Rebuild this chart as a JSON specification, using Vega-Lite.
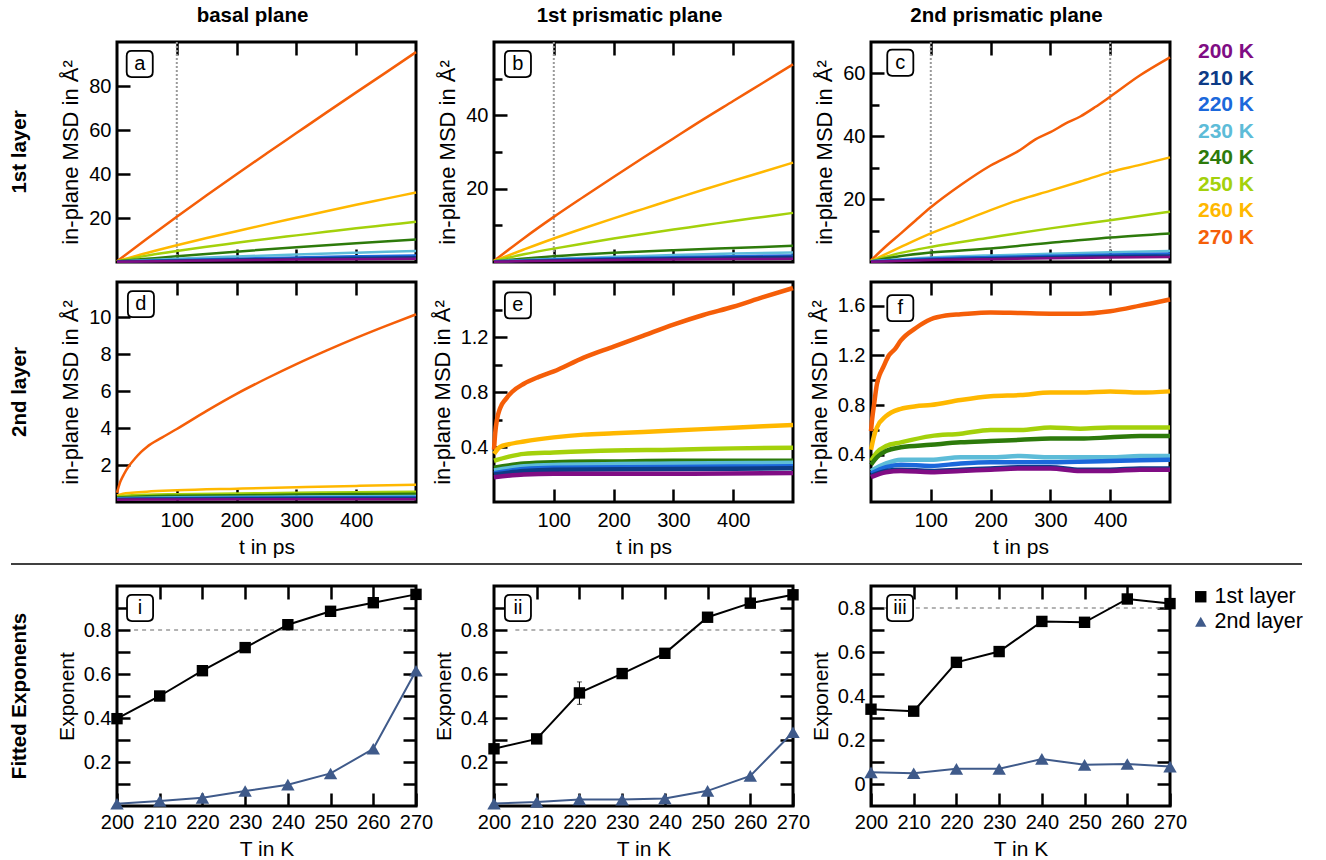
{
"$schema": "https://vega.github.io/schema/vega-lite/v6.json",
"padding": {"left": 9, "top": 4, "right": 5, "bottom": 0},
"config": {
  "font": "Liberation Sans",
  "view": {"stroke": "black", "strokeWidth": 3},
  "axis": {"domain": false, "grid": false, "tickColor": "black", "tickWidth": 2.5, "tickSize": -13, "labelFontSize": 20, "labelColor": "black", "titleFontSize": 21, "titleFontWeight": "normal", "titleColor": "black", "labelFlush": false, "labelOverlap": false},
  "axisX": {"labelPadding": 21, "titlePadding": 6},
  "axisY": {"labelPadding": 19, "titlePadding": 6}
},
"datasets": {
  "rows": [{"r": "1st layer"}, {"r": "2nd layer"}, {"r": "Fitted Exponents"}],
  "temps": [{"T": "200 K"}, {"T": "210 K"}, {"T": "220 K"}, {"T": "230 K"}, {"T": "240 K"}, {"T": "250 K"}, {"T": "260 K"}, {"T": "270 K"}],
  "sep": [{"y": 0}],
  "vref": [{"p": "a", "t": 100}, {"p": "b", "t": 100}, {"p": "c", "t": 100}, {"p": "c", "t": 400}],
  "href": [{"p": "i", "t": 204, "t2": 268, "v": 0.8}, {"p": "ii", "t": 205, "t2": 268, "v": 0.8}, {"p": "iii", "t": 203, "t2": 269, "v": 0.8}],
  "labs": [
    {"p": "a", "lab": "a", "t": 38, "v": 90}, {"p": "b", "lab": "b", "t": 40, "v": 54}, {"p": "c", "lab": "c", "t": 49, "v": 63.4},
    {"p": "d", "lab": "d", "t": 40, "v": 10.7}, {"p": "e", "lab": "e", "t": 40, "v": 1.43}, {"p": "f", "lab": "f", "t": 49, "v": 1.58},
    {"p": "i", "lab": "i", "t": 205.4, "v": 0.9}, {"p": "ii", "lab": "ii", "t": 205.6, "v": 0.9}, {"p": "iii", "lab": "iii", "t": 206.8, "v": 0.8}
  ],
  "exp": [
    {"p": "i", "s": "1st layer", "K": 200, "v": 0.397, "lo": 0.385, "hi": 0.409},
    {"p": "i", "s": "1st layer", "K": 210, "v": 0.5, "lo": 0.488, "hi": 0.512},
    {"p": "i", "s": "1st layer", "K": 220, "v": 0.615, "lo": 0.603, "hi": 0.627},
    {"p": "i", "s": "1st layer", "K": 230, "v": 0.72, "lo": 0.708, "hi": 0.732},
    {"p": "i", "s": "1st layer", "K": 240, "v": 0.824, "lo": 0.812, "hi": 0.836},
    {"p": "i", "s": "1st layer", "K": 250, "v": 0.885, "lo": 0.873, "hi": 0.897},
    {"p": "i", "s": "1st layer", "K": 260, "v": 0.924, "lo": 0.912, "hi": 0.936},
    {"p": "i", "s": "1st layer", "K": 270, "v": 0.962, "lo": 0.95, "hi": 0.974},
    {"p": "i", "s": "2nd layer", "K": 200, "v": 0.01},
    {"p": "i", "s": "2nd layer", "K": 210, "v": 0.023},
    {"p": "i", "s": "2nd layer", "K": 220, "v": 0.037},
    {"p": "i", "s": "2nd layer", "K": 230, "v": 0.068},
    {"p": "i", "s": "2nd layer", "K": 240, "v": 0.097},
    {"p": "i", "s": "2nd layer", "K": 250, "v": 0.148},
    {"p": "i", "s": "2nd layer", "K": 260, "v": 0.26},
    {"p": "i", "s": "2nd layer", "K": 270, "v": 0.615},
    {"p": "ii", "s": "1st layer", "K": 200, "v": 0.26, "lo": 0.248, "hi": 0.272},
    {"p": "ii", "s": "1st layer", "K": 210, "v": 0.305, "lo": 0.288, "hi": 0.322},
    {"p": "ii", "s": "1st layer", "K": 220, "v": 0.514, "lo": 0.462, "hi": 0.564},
    {"p": "ii", "s": "1st layer", "K": 230, "v": 0.602, "lo": 0.59, "hi": 0.614},
    {"p": "ii", "s": "1st layer", "K": 240, "v": 0.694, "lo": 0.682, "hi": 0.706},
    {"p": "ii", "s": "1st layer", "K": 250, "v": 0.858, "lo": 0.846, "hi": 0.87},
    {"p": "ii", "s": "1st layer", "K": 260, "v": 0.922, "lo": 0.91, "hi": 0.934},
    {"p": "ii", "s": "1st layer", "K": 270, "v": 0.96, "lo": 0.948, "hi": 0.972},
    {"p": "ii", "s": "2nd layer", "K": 200, "v": 0.011},
    {"p": "ii", "s": "2nd layer", "K": 210, "v": 0.018},
    {"p": "ii", "s": "2nd layer", "K": 220, "v": 0.03},
    {"p": "ii", "s": "2nd layer", "K": 230, "v": 0.029},
    {"p": "ii", "s": "2nd layer", "K": 240, "v": 0.034},
    {"p": "ii", "s": "2nd layer", "K": 250, "v": 0.069},
    {"p": "ii", "s": "2nd layer", "K": 260, "v": 0.137},
    {"p": "ii", "s": "2nd layer", "K": 270, "v": 0.335},
    {"p": "iii", "s": "1st layer", "K": 200, "v": 0.34, "lo": 0.328, "hi": 0.352},
    {"p": "iii", "s": "1st layer", "K": 210, "v": 0.331, "lo": 0.319, "hi": 0.343},
    {"p": "iii", "s": "1st layer", "K": 220, "v": 0.553, "lo": 0.541, "hi": 0.565},
    {"p": "iii", "s": "1st layer", "K": 230, "v": 0.602, "lo": 0.59, "hi": 0.614},
    {"p": "iii", "s": "1st layer", "K": 240, "v": 0.739, "lo": 0.727, "hi": 0.751},
    {"p": "iii", "s": "1st layer", "K": 250, "v": 0.735, "lo": 0.723, "hi": 0.747},
    {"p": "iii", "s": "1st layer", "K": 260, "v": 0.841, "lo": 0.829, "hi": 0.853},
    {"p": "iii", "s": "1st layer", "K": 270, "v": 0.82, "lo": 0.808, "hi": 0.832},
    {"p": "iii", "s": "2nd layer", "K": 200, "v": 0.053},
    {"p": "iii", "s": "2nd layer", "K": 210, "v": 0.049},
    {"p": "iii", "s": "2nd layer", "K": 220, "v": 0.069},
    {"p": "iii", "s": "2nd layer", "K": 230, "v": 0.069},
    {"p": "iii", "s": "2nd layer", "K": 240, "v": 0.114},
    {"p": "iii", "s": "2nd layer", "K": 250, "v": 0.087},
    {"p": "iii", "s": "2nd layer", "K": 260, "v": 0.091},
    {"p": "iii", "s": "2nd layer", "K": 270, "v": 0.079}
  ],
  "msd": [
    {"p":"a","T":"270 K","t":0,"v":0.3},{"p":"a","T":"270 K","t":50,"v":10.6},{"p":"a","T":"270 K","t":100,"v":20.6},{"p":"a","T":"270 K","t":150,"v":30.3},{"p":"a","T":"270 K","t":200,"v":39.9},{"p":"a","T":"270 K","t":250,"v":49.3},{"p":"a","T":"270 K","t":300,"v":58.6},{"p":"a","T":"270 K","t":350,"v":67.9},{"p":"a","T":"270 K","t":400,"v":77.1},{"p":"a","T":"270 K","t":450,"v":86.2},{"p":"a","T":"270 K","t":500,"v":95.4},
    {"p":"a","T":"260 K","t":0,"v":0.3},{"p":"a","T":"260 K","t":50,"v":4.1},{"p":"a","T":"260 K","t":100,"v":7.6},{"p":"a","T":"260 K","t":150,"v":10.9},{"p":"a","T":"260 K","t":200,"v":14.0},{"p":"a","T":"260 K","t":250,"v":17.1},{"p":"a","T":"260 K","t":300,"v":20.1},{"p":"a","T":"260 K","t":350,"v":23.1},{"p":"a","T":"260 K","t":400,"v":26.0},{"p":"a","T":"260 K","t":450,"v":28.8},{"p":"a","T":"260 K","t":500,"v":31.6},
    {"p":"a","T":"250 K","t":0,"v":0.3},{"p":"a","T":"250 K","t":50,"v":2.9},{"p":"a","T":"250 K","t":100,"v":5.0},{"p":"a","T":"250 K","t":150,"v":6.9},{"p":"a","T":"250 K","t":200,"v":8.7},{"p":"a","T":"250 K","t":250,"v":10.5},{"p":"a","T":"250 K","t":300,"v":12.1},{"p":"a","T":"250 K","t":350,"v":13.7},{"p":"a","T":"250 K","t":400,"v":15.3},{"p":"a","T":"250 K","t":450,"v":16.8},{"p":"a","T":"250 K","t":500,"v":18.3},
    {"p":"a","T":"240 K","t":0,"v":0.3},{"p":"a","T":"240 K","t":50,"v":1.45},{"p":"a","T":"240 K","t":100,"v":2.6},{"p":"a","T":"240 K","t":200,"v":4.7},{"p":"a","T":"240 K","t":300,"v":6.7},{"p":"a","T":"240 K","t":400,"v":8.5},{"p":"a","T":"240 K","t":500,"v":10.2},
    {"p":"a","T":"230 K","t":0,"v":0.2},{"p":"a","T":"230 K","t":100,"v":1.5},{"p":"a","T":"230 K","t":200,"v":2.5},{"p":"a","T":"230 K","t":300,"v":3.4},{"p":"a","T":"230 K","t":400,"v":4.2},{"p":"a","T":"230 K","t":500,"v":5.0},
    {"p":"a","T":"220 K","t":0,"v":0.2},{"p":"a","T":"220 K","t":100,"v":0.9},{"p":"a","T":"220 K","t":200,"v":1.5},{"p":"a","T":"220 K","t":300,"v":2.1},{"p":"a","T":"220 K","t":400,"v":2.6},{"p":"a","T":"220 K","t":500,"v":3.0},
    {"p":"a","T":"210 K","t":0,"v":0.2},{"p":"a","T":"210 K","t":100,"v":0.7},{"p":"a","T":"210 K","t":200,"v":1.1},{"p":"a","T":"210 K","t":300,"v":1.5},{"p":"a","T":"210 K","t":400,"v":1.9},{"p":"a","T":"210 K","t":500,"v":2.2},
    {"p":"a","T":"200 K","t":0,"v":0.1},{"p":"a","T":"200 K","t":100,"v":0.5},{"p":"a","T":"200 K","t":200,"v":0.8},{"p":"a","T":"200 K","t":300,"v":1.1},{"p":"a","T":"200 K","t":400,"v":1.3},{"p":"a","T":"200 K","t":500,"v":1.5},

    {"p":"b","T":"270 K","t":0,"v":0.3},{"p":"b","T":"270 K","t":50,"v":6.5},{"p":"b","T":"270 K","t":100,"v":12.3},{"p":"b","T":"270 K","t":150,"v":17.8},{"p":"b","T":"270 K","t":200,"v":23.2},{"p":"b","T":"270 K","t":250,"v":28.5},{"p":"b","T":"270 K","t":300,"v":33.7},{"p":"b","T":"270 K","t":350,"v":38.9},{"p":"b","T":"270 K","t":400,"v":43.9},{"p":"b","T":"270 K","t":450,"v":48.9},{"p":"b","T":"270 K","t":500,"v":53.9},
    {"p":"b","T":"260 K","t":0,"v":0.3},{"p":"b","T":"260 K","t":50,"v":3.4},{"p":"b","T":"260 K","t":100,"v":6.4},{"p":"b","T":"260 K","t":150,"v":9.2},{"p":"b","T":"260 K","t":200,"v":11.9},{"p":"b","T":"260 K","t":250,"v":14.5},{"p":"b","T":"260 K","t":300,"v":17.1},{"p":"b","T":"260 K","t":350,"v":19.7},{"p":"b","T":"260 K","t":400,"v":22.2},{"p":"b","T":"260 K","t":450,"v":24.6},{"p":"b","T":"260 K","t":500,"v":27.1},
    {"p":"b","T":"250 K","t":0,"v":0.3},{"p":"b","T":"250 K","t":50,"v":2.1},{"p":"b","T":"250 K","t":100,"v":3.65},{"p":"b","T":"250 K","t":150,"v":5.05},{"p":"b","T":"250 K","t":200,"v":6.4},{"p":"b","T":"250 K","t":250,"v":7.65},{"p":"b","T":"250 K","t":300,"v":8.85},{"p":"b","T":"250 K","t":350,"v":10.0},{"p":"b","T":"250 K","t":400,"v":11.2},{"p":"b","T":"250 K","t":450,"v":12.3},{"p":"b","T":"250 K","t":500,"v":13.4},
    {"p":"b","T":"240 K","t":0,"v":0.2},{"p":"b","T":"240 K","t":100,"v":1.55},{"p":"b","T":"240 K","t":200,"v":2.5},{"p":"b","T":"240 K","t":300,"v":3.2},{"p":"b","T":"240 K","t":400,"v":3.8},{"p":"b","T":"240 K","t":500,"v":4.4},
    {"p":"b","T":"230 K","t":0,"v":0.2},{"p":"b","T":"230 K","t":100,"v":0.9},{"p":"b","T":"230 K","t":200,"v":1.4},{"p":"b","T":"230 K","t":300,"v":1.9},{"p":"b","T":"230 K","t":400,"v":2.3},{"p":"b","T":"230 K","t":500,"v":2.6},
    {"p":"b","T":"220 K","t":0,"v":0.15},{"p":"b","T":"220 K","t":100,"v":0.7},{"p":"b","T":"220 K","t":200,"v":1.0},{"p":"b","T":"220 K","t":300,"v":1.3},{"p":"b","T":"220 K","t":400,"v":1.6},{"p":"b","T":"220 K","t":500,"v":1.8},
    {"p":"b","T":"210 K","t":0,"v":0.1},{"p":"b","T":"210 K","t":100,"v":0.5},{"p":"b","T":"210 K","t":200,"v":0.8},{"p":"b","T":"210 K","t":300,"v":1.05},{"p":"b","T":"210 K","t":400,"v":1.25},{"p":"b","T":"210 K","t":500,"v":1.4},
    {"p":"b","T":"200 K","t":0,"v":0.1},{"p":"b","T":"200 K","t":100,"v":0.35},{"p":"b","T":"200 K","t":200,"v":0.55},{"p":"b","T":"200 K","t":300,"v":0.7},{"p":"b","T":"200 K","t":400,"v":0.8},{"p":"b","T":"200 K","t":500,"v":0.9},

    {"p":"c","T":"270 K","t":0,"v":0.5},{"p":"c","T":"270 K","t":25,"v":5.0},{"p":"c","T":"270 K","t":50,"v":9.1},{"p":"c","T":"270 K","t":75,"v":13.3},{"p":"c","T":"270 K","t":100,"v":17.4},{"p":"c","T":"270 K","t":150,"v":24.5},{"p":"c","T":"270 K","t":200,"v":30.7},{"p":"c","T":"270 K","t":250,"v":35.7},{"p":"c","T":"270 K","t":275,"v":39.0},{"p":"c","T":"270 K","t":300,"v":41.3},{"p":"c","T":"270 K","t":325,"v":44.0},{"p":"c","T":"270 K","t":350,"v":46.3},{"p":"c","T":"270 K","t":375,"v":49.3},{"p":"c","T":"270 K","t":400,"v":52.6},{"p":"c","T":"270 K","t":450,"v":59.4},{"p":"c","T":"270 K","t":500,"v":65.1},
    {"p":"c","T":"260 K","t":0,"v":0.3},{"p":"c","T":"260 K","t":50,"v":4.8},{"p":"c","T":"260 K","t":100,"v":9.1},{"p":"c","T":"260 K","t":150,"v":12.8},{"p":"c","T":"260 K","t":200,"v":16.5},{"p":"c","T":"260 K","t":250,"v":19.9},{"p":"c","T":"260 K","t":300,"v":22.7},{"p":"c","T":"260 K","t":350,"v":25.6},{"p":"c","T":"260 K","t":400,"v":28.6},{"p":"c","T":"260 K","t":450,"v":30.9},{"p":"c","T":"260 K","t":500,"v":33.3},
    {"p":"c","T":"250 K","t":0,"v":0.3},{"p":"c","T":"250 K","t":50,"v":2.9},{"p":"c","T":"250 K","t":100,"v":4.8},{"p":"c","T":"250 K","t":200,"v":7.8},{"p":"c","T":"250 K","t":300,"v":10.7},{"p":"c","T":"250 K","t":400,"v":13.3},{"p":"c","T":"250 K","t":500,"v":16.0},
    {"p":"c","T":"240 K","t":0,"v":0.2},{"p":"c","T":"240 K","t":50,"v":1.9},{"p":"c","T":"240 K","t":100,"v":3.0},{"p":"c","T":"240 K","t":200,"v":4.3},{"p":"c","T":"240 K","t":300,"v":6.1},{"p":"c","T":"240 K","t":400,"v":7.8},{"p":"c","T":"240 K","t":500,"v":9.1},
    {"p":"c","T":"230 K","t":0,"v":0.2},{"p":"c","T":"230 K","t":100,"v":1.4},{"p":"c","T":"230 K","t":200,"v":2.1},{"p":"c","T":"230 K","t":300,"v":2.6},{"p":"c","T":"230 K","t":400,"v":3.1},{"p":"c","T":"230 K","t":500,"v":3.5},
    {"p":"c","T":"220 K","t":0,"v":0.2},{"p":"c","T":"220 K","t":100,"v":1.1},{"p":"c","T":"220 K","t":200,"v":1.6},{"p":"c","T":"220 K","t":300,"v":2.0},{"p":"c","T":"220 K","t":400,"v":2.4},{"p":"c","T":"220 K","t":500,"v":2.7},
    {"p":"c","T":"210 K","t":0,"v":0.1},{"p":"c","T":"210 K","t":100,"v":0.8},{"p":"c","T":"210 K","t":200,"v":1.2},{"p":"c","T":"210 K","t":300,"v":1.6},{"p":"c","T":"210 K","t":400,"v":1.9},{"p":"c","T":"210 K","t":500,"v":2.1},
    {"p":"c","T":"200 K","t":0,"v":0.1},{"p":"c","T":"200 K","t":100,"v":0.6},{"p":"c","T":"200 K","t":200,"v":0.9},{"p":"c","T":"200 K","t":300,"v":1.2},{"p":"c","T":"200 K","t":400,"v":1.4},{"p":"c","T":"200 K","t":500,"v":1.6},

    {"p":"d","T":"270 K","t":0,"v":0.5},{"p":"d","T":"270 K","t":5,"v":1.05},{"p":"d","T":"270 K","t":10,"v":1.4},{"p":"d","T":"270 K","t":15,"v":1.7},{"p":"d","T":"270 K","t":20,"v":1.95},{"p":"d","T":"270 K","t":30,"v":2.35},{"p":"d","T":"270 K","t":40,"v":2.7},{"p":"d","T":"270 K","t":50,"v":2.98},{"p":"d","T":"270 K","t":75,"v":3.48},{"p":"d","T":"270 K","t":100,"v":3.95},{"p":"d","T":"270 K","t":150,"v":4.93},{"p":"d","T":"270 K","t":200,"v":5.85},{"p":"d","T":"270 K","t":250,"v":6.68},{"p":"d","T":"270 K","t":300,"v":7.46},{"p":"d","T":"270 K","t":350,"v":8.19},{"p":"d","T":"270 K","t":400,"v":8.88},{"p":"d","T":"270 K","t":450,"v":9.53},{"p":"d","T":"270 K","t":500,"v":10.15},
    {"p":"d","T":"260 K","t":0,"v":0.35},{"p":"d","T":"260 K","t":10,"v":0.45},{"p":"d","T":"260 K","t":25,"v":0.5},{"p":"d","T":"260 K","t":50,"v":0.56},{"p":"d","T":"260 K","t":100,"v":0.63},{"p":"d","T":"260 K","t":200,"v":0.72},{"p":"d","T":"260 K","t":300,"v":0.8},{"p":"d","T":"260 K","t":400,"v":0.87},{"p":"d","T":"260 K","t":500,"v":0.93},
    {"p":"d","T":"250 K","t":0,"v":0.3},{"p":"d","T":"250 K","t":25,"v":0.36},{"p":"d","T":"250 K","t":50,"v":0.39},{"p":"d","T":"250 K","t":100,"v":0.42},{"p":"d","T":"250 K","t":200,"v":0.46},{"p":"d","T":"250 K","t":300,"v":0.5},{"p":"d","T":"250 K","t":400,"v":0.53},{"p":"d","T":"250 K","t":500,"v":0.55},
    {"p":"d","T":"240 K","t":0,"v":0.25},{"p":"d","T":"240 K","t":50,"v":0.31},{"p":"d","T":"240 K","t":100,"v":0.34},{"p":"d","T":"240 K","t":200,"v":0.37},{"p":"d","T":"240 K","t":300,"v":0.4},{"p":"d","T":"240 K","t":400,"v":0.43},{"p":"d","T":"240 K","t":500,"v":0.45},
    {"p":"d","T":"230 K","t":0,"v":0.2},{"p":"d","T":"230 K","t":100,"v":0.26},{"p":"d","T":"230 K","t":300,"v":0.3},{"p":"d","T":"230 K","t":500,"v":0.33},
    {"p":"d","T":"220 K","t":0,"v":0.18},{"p":"d","T":"220 K","t":100,"v":0.22},{"p":"d","T":"220 K","t":300,"v":0.25},{"p":"d","T":"220 K","t":500,"v":0.27},
    {"p":"d","T":"210 K","t":0,"v":0.16},{"p":"d","T":"210 K","t":100,"v":0.19},{"p":"d","T":"210 K","t":300,"v":0.21},{"p":"d","T":"210 K","t":500,"v":0.22},
    {"p":"d","T":"200 K","t":0,"v":0.12},{"p":"d","T":"200 K","t":100,"v":0.14},{"p":"d","T":"200 K","t":300,"v":0.15},{"p":"d","T":"200 K","t":500,"v":0.15},

    {"p":"e","T":"270 K","t":0,"v":0.38},{"p":"e","T":"270 K","t":2,"v":0.5},{"p":"e","T":"270 K","t":5,"v":0.6},{"p":"e","T":"270 K","t":10,"v":0.68},{"p":"e","T":"270 K","t":20,"v":0.75},{"p":"e","T":"270 K","t":30,"v":0.8},{"p":"e","T":"270 K","t":50,"v":0.86},{"p":"e","T":"270 K","t":75,"v":0.91},{"p":"e","T":"270 K","t":100,"v":0.95},{"p":"e","T":"270 K","t":150,"v":1.05},{"p":"e","T":"270 K","t":200,"v":1.13},{"p":"e","T":"270 K","t":250,"v":1.21},{"p":"e","T":"270 K","t":300,"v":1.29},{"p":"e","T":"270 K","t":350,"v":1.36},{"p":"e","T":"270 K","t":400,"v":1.42},{"p":"e","T":"270 K","t":450,"v":1.49},{"p":"e","T":"270 K","t":500,"v":1.556},
    {"p":"e","T":"260 K","t":0,"v":0.35},{"p":"e","T":"260 K","t":10,"v":0.4},{"p":"e","T":"260 K","t":25,"v":0.42},{"p":"e","T":"260 K","t":50,"v":0.44},{"p":"e","T":"260 K","t":100,"v":0.47},{"p":"e","T":"260 K","t":150,"v":0.49},{"p":"e","T":"260 K","t":200,"v":0.5},{"p":"e","T":"260 K","t":300,"v":0.52},{"p":"e","T":"260 K","t":400,"v":0.54},{"p":"e","T":"260 K","t":500,"v":0.56},
    {"p":"e","T":"250 K","t":0,"v":0.3},{"p":"e","T":"250 K","t":25,"v":0.33},{"p":"e","T":"250 K","t":50,"v":0.35},{"p":"e","T":"250 K","t":100,"v":0.36},{"p":"e","T":"250 K","t":200,"v":0.375},{"p":"e","T":"250 K","t":300,"v":0.38},{"p":"e","T":"250 K","t":400,"v":0.39},{"p":"e","T":"250 K","t":500,"v":0.395},
    {"p":"e","T":"240 K","t":0,"v":0.25},{"p":"e","T":"240 K","t":50,"v":0.28},{"p":"e","T":"240 K","t":100,"v":0.29},{"p":"e","T":"240 K","t":200,"v":0.295},{"p":"e","T":"240 K","t":300,"v":0.3},{"p":"e","T":"240 K","t":500,"v":0.3},
    {"p":"e","T":"230 K","t":0,"v":0.23},{"p":"e","T":"230 K","t":50,"v":0.26},{"p":"e","T":"230 K","t":100,"v":0.27},{"p":"e","T":"230 K","t":300,"v":0.28},{"p":"e","T":"230 K","t":500,"v":0.285},
    {"p":"e","T":"220 K","t":0,"v":0.21},{"p":"e","T":"220 K","t":50,"v":0.24},{"p":"e","T":"220 K","t":100,"v":0.25},{"p":"e","T":"220 K","t":300,"v":0.255},{"p":"e","T":"220 K","t":500,"v":0.26},
    {"p":"e","T":"210 K","t":0,"v":0.2},{"p":"e","T":"210 K","t":50,"v":0.225},{"p":"e","T":"210 K","t":100,"v":0.235},{"p":"e","T":"210 K","t":300,"v":0.24},{"p":"e","T":"210 K","t":500,"v":0.245},
    {"p":"e","T":"200 K","t":0,"v":0.18},{"p":"e","T":"200 K","t":50,"v":0.2},{"p":"e","T":"200 K","t":100,"v":0.205},{"p":"e","T":"200 K","t":300,"v":0.205},{"p":"e","T":"200 K","t":500,"v":0.21},

    {"p":"f","T":"270 K","t":0,"v":0.59},{"p":"f","T":"270 K","t":2,"v":0.69},{"p":"f","T":"270 K","t":5,"v":0.8},{"p":"f","T":"270 K","t":10,"v":0.97},{"p":"f","T":"270 K","t":15,"v":1.05},{"p":"f","T":"270 K","t":20,"v":1.1},{"p":"f","T":"270 K","t":30,"v":1.2},{"p":"f","T":"270 K","t":40,"v":1.25},{"p":"f","T":"270 K","t":50,"v":1.32},{"p":"f","T":"270 K","t":75,"v":1.42},{"p":"f","T":"270 K","t":100,"v":1.49},{"p":"f","T":"270 K","t":125,"v":1.52},{"p":"f","T":"270 K","t":150,"v":1.53},{"p":"f","T":"270 K","t":200,"v":1.545},{"p":"f","T":"270 K","t":250,"v":1.54},{"p":"f","T":"270 K","t":300,"v":1.535},{"p":"f","T":"270 K","t":350,"v":1.535},{"p":"f","T":"270 K","t":400,"v":1.555},{"p":"f","T":"270 K","t":450,"v":1.6},{"p":"f","T":"270 K","t":500,"v":1.65},
    {"p":"f","T":"260 K","t":0,"v":0.44},{"p":"f","T":"260 K","t":5,"v":0.55},{"p":"f","T":"260 K","t":10,"v":0.62},{"p":"f","T":"260 K","t":25,"v":0.71},{"p":"f","T":"260 K","t":50,"v":0.77},{"p":"f","T":"260 K","t":75,"v":0.79},{"p":"f","T":"260 K","t":100,"v":0.8},{"p":"f","T":"260 K","t":150,"v":0.84},{"p":"f","T":"260 K","t":200,"v":0.87},{"p":"f","T":"260 K","t":250,"v":0.88},{"p":"f","T":"260 K","t":300,"v":0.9},{"p":"f","T":"260 K","t":350,"v":0.9},{"p":"f","T":"260 K","t":400,"v":0.91},{"p":"f","T":"260 K","t":450,"v":0.9},{"p":"f","T":"260 K","t":500,"v":0.91},
    {"p":"f","T":"250 K","t":0,"v":0.35},{"p":"f","T":"250 K","t":10,"v":0.42},{"p":"f","T":"250 K","t":25,"v":0.47},{"p":"f","T":"250 K","t":50,"v":0.5},{"p":"f","T":"250 K","t":100,"v":0.55},{"p":"f","T":"250 K","t":150,"v":0.57},{"p":"f","T":"250 K","t":200,"v":0.6},{"p":"f","T":"250 K","t":250,"v":0.6},{"p":"f","T":"250 K","t":300,"v":0.62},{"p":"f","T":"250 K","t":350,"v":0.61},{"p":"f","T":"250 K","t":400,"v":0.62},{"p":"f","T":"250 K","t":450,"v":0.62},{"p":"f","T":"250 K","t":500,"v":0.62},
    {"p":"f","T":"240 K","t":0,"v":0.32},{"p":"f","T":"240 K","t":10,"v":0.38},{"p":"f","T":"240 K","t":25,"v":0.43},{"p":"f","T":"240 K","t":50,"v":0.46},{"p":"f","T":"240 K","t":100,"v":0.48},{"p":"f","T":"240 K","t":150,"v":0.5},{"p":"f","T":"240 K","t":200,"v":0.51},{"p":"f","T":"240 K","t":250,"v":0.52},{"p":"f","T":"240 K","t":300,"v":0.53},{"p":"f","T":"240 K","t":350,"v":0.53},{"p":"f","T":"240 K","t":400,"v":0.54},{"p":"f","T":"240 K","t":450,"v":0.55},{"p":"f","T":"240 K","t":500,"v":0.55},
    {"p":"f","T":"230 K","t":0,"v":0.27},{"p":"f","T":"230 K","t":25,"v":0.33},{"p":"f","T":"230 K","t":50,"v":0.36},{"p":"f","T":"230 K","t":100,"v":0.36},{"p":"f","T":"230 K","t":150,"v":0.38},{"p":"f","T":"230 K","t":200,"v":0.38},{"p":"f","T":"230 K","t":250,"v":0.39},{"p":"f","T":"230 K","t":300,"v":0.38},{"p":"f","T":"230 K","t":350,"v":0.38},{"p":"f","T":"230 K","t":400,"v":0.38},{"p":"f","T":"230 K","t":450,"v":0.39},{"p":"f","T":"230 K","t":500,"v":0.39},
    {"p":"f","T":"220 K","t":0,"v":0.25},{"p":"f","T":"220 K","t":25,"v":0.3},{"p":"f","T":"220 K","t":50,"v":0.32},{"p":"f","T":"220 K","t":100,"v":0.31},{"p":"f","T":"220 K","t":150,"v":0.33},{"p":"f","T":"220 K","t":200,"v":0.34},{"p":"f","T":"220 K","t":300,"v":0.34},{"p":"f","T":"220 K","t":400,"v":0.35},{"p":"f","T":"220 K","t":500,"v":0.36},
    {"p":"f","T":"210 K","t":0,"v":0.23},{"p":"f","T":"210 K","t":25,"v":0.27},{"p":"f","T":"210 K","t":50,"v":0.28},{"p":"f","T":"210 K","t":100,"v":0.27},{"p":"f","T":"210 K","t":150,"v":0.28},{"p":"f","T":"210 K","t":200,"v":0.29},{"p":"f","T":"210 K","t":250,"v":0.3},{"p":"f","T":"210 K","t":300,"v":0.3},{"p":"f","T":"210 K","t":350,"v":0.28},{"p":"f","T":"210 K","t":400,"v":0.28},{"p":"f","T":"210 K","t":450,"v":0.29},{"p":"f","T":"210 K","t":500,"v":0.29},
    {"p":"f","T":"200 K","t":0,"v":0.22},{"p":"f","T":"200 K","t":25,"v":0.26},{"p":"f","T":"200 K","t":50,"v":0.27},{"p":"f","T":"200 K","t":100,"v":0.26},{"p":"f","T":"200 K","t":150,"v":0.27},{"p":"f","T":"200 K","t":200,"v":0.28},{"p":"f","T":"200 K","t":250,"v":0.29},{"p":"f","T":"200 K","t":300,"v":0.29},{"p":"f","T":"200 K","t":350,"v":0.27},{"p":"f","T":"200 K","t":400,"v":0.27},{"p":"f","T":"200 K","t":450,"v":0.28},{"p":"f","T":"200 K","t":500,"v":0.28}
  ]
},
"resolve": {"legend": {"shape": "independent", "fill": "independent"}},
"spacing": 4,
"vconcat": [
 {"spacing": 8, "vconcat": [
  {"hconcat": [
    {"width": 28, "height": 220, "view": {"stroke": null}, "data": {"name": "rows"}, "transform": [{"filter": "datum.r==='1st layer'"}], "mark": {"type": "text", "angle": 270, "fontSize": 20.5, "fontWeight": "bold", "align": "center", "baseline": "middle", "color": "black", "dy": -5}, "encoding": {"text": {"field": "r"}}},
    {"width": 299, "height": 220,
     "title": {"text": "basal plane", "fontSize": 20.5, "fontWeight": "bold", "frame": "group", "anchor": "middle", "dx": -14, "offset": 14, "color": "black"},
     "resolve": {"axis": {"x": "independent", "y": "independent"}},
     "layer": [
      {"data": {"name": "vref"}, "transform": [{"filter": "datum.p==='a'"}], "mark": {"type": "rule", "color": "#9a9a9a", "strokeWidth": 2, "strokeDash": [2, 2]}, "encoding": {"x": {"field": "t", "type": "quantitative", "axis": null}}},
      {"data": {"name": "msd"}, "transform": [{"filter": "datum.p==='a'"}], "mark": {"type": "line", "strokeWidth": 2.5, "interpolate": "monotone"},
       "encoding": {"x": {"field": "t", "type": "quantitative", "scale": {"domain": [0, 500], "nice": false}, "axis": {"values": [100, 200, 300, 400], "labels": false, "title": null}},
                    "y": {"field": "v", "type": "quantitative", "scale": {"domain": [0, 100], "nice": false}, "axis": {"values": [20, 40, 60, 80], "title": "in-plane MSD in  Å²", "titleFontSize": 22}},
                    "color": {"field": "T", "type": "nominal", "scale": {"domain": ["200 K","210 K","220 K","230 K","240 K","250 K","260 K","270 K"], "range": ["#800D84","#0D3B86","#1B68DB","#5DBCD8","#2D7A0B","#A4D10B","#FFB800","#F55E08"]}, "legend": null}}},
      {"data": {"name": "labs"}, "transform": [{"filter": "datum.p==='a'"}], "mark": {"type": "point", "shape": "M-0.62,-1L0.62,-1Q1,-1 1,-0.62L1,0.62Q1,1 0.62,1L-0.62,1Q-1,1 -1,0.62L-1,-0.62Q-1,-1 -0.62,-1Z", "size": 680, "filled": true, "fill": "white", "stroke": "black", "strokeWidth": 1.8, "opacity": 1},
       "encoding": {"x": {"field": "t", "type": "quantitative", "axis": {"orient": "top", "values": [100, 200, 300, 400], "labels": false, "title": null}}, "y": {"field": "v", "type": "quantitative", "axis": null}}},
      {"data": {"name": "labs"}, "transform": [{"filter": "datum.p==='a'"}], "mark": {"type": "text", "fontSize": 20, "color": "black"},
       "encoding": {"x": {"field": "t", "type": "quantitative", "axis": null}, "y": {"field": "v", "type": "quantitative", "axis": null}, "text": {"field": "lab"}}}
     ]},
    {"width": 299, "height": 220,
     "title": {"text": "1st prismatic plane", "fontSize": 20.5, "fontWeight": "bold", "frame": "group", "anchor": "middle", "dx": -14, "offset": 14, "color": "black"},
     "resolve": {"axis": {"x": "independent", "y": "independent"}},
     "layer": [
      {"data": {"name": "vref"}, "transform": [{"filter": "datum.p==='b'"}], "mark": {"type": "rule", "color": "#9a9a9a", "strokeWidth": 2, "strokeDash": [2, 2]}, "encoding": {"x": {"field": "t", "type": "quantitative", "axis": null}}},
      {"data": {"name": "msd"}, "transform": [{"filter": "datum.p==='b'"}], "mark": {"type": "line", "strokeWidth": 2.5, "interpolate": "monotone"},
       "encoding": {"x": {"field": "t", "type": "quantitative", "scale": {"domain": [0, 500], "nice": false}, "axis": {"values": [100, 200, 300, 400], "labels": false, "title": null}},
                    "y": {"field": "v", "type": "quantitative", "scale": {"domain": [0, 60], "nice": false}, "axis": {"values": [20, 40], "title": "in-plane MSD in  Å²", "titleFontSize": 22}},
                    "color": {"field": "T", "type": "nominal", "scale": {"domain": ["200 K","210 K","220 K","230 K","240 K","250 K","260 K","270 K"], "range": ["#800D84","#0D3B86","#1B68DB","#5DBCD8","#2D7A0B","#A4D10B","#FFB800","#F55E08"]}, "legend": null}}},
      {"data": {"name": "labs"}, "transform": [{"filter": "datum.p==='b'"}], "mark": {"type": "point", "shape": "M-0.62,-1L0.62,-1Q1,-1 1,-0.62L1,0.62Q1,1 0.62,1L-0.62,1Q-1,1 -1,0.62L-1,-0.62Q-1,-1 -0.62,-1Z", "size": 680, "filled": true, "fill": "white", "stroke": "black", "strokeWidth": 1.8, "opacity": 1},
       "encoding": {"x": {"field": "t", "type": "quantitative", "axis": {"orient": "top", "values": [100, 200, 300, 400], "labels": false, "title": null}}, "y": {"field": "v", "type": "quantitative", "axis": {"orient": "left", "values": [10, 30, 50], "labels": false, "title": null, "tickSize": -8}}}},
      {"data": {"name": "labs"}, "transform": [{"filter": "datum.p==='b'"}], "mark": {"type": "text", "fontSize": 20, "color": "black"},
       "encoding": {"x": {"field": "t", "type": "quantitative", "axis": null}, "y": {"field": "v", "type": "quantitative", "axis": null}, "text": {"field": "lab"}}}
     ]},
    {"width": 299, "height": 220,
     "title": {"text": "2nd prismatic plane", "fontSize": 20.5, "fontWeight": "bold", "frame": "group", "anchor": "middle", "dx": -14, "offset": 14, "color": "black"},
     "resolve": {"axis": {"x": "independent", "y": "independent"}},
     "layer": [
      {"data": {"name": "vref"}, "transform": [{"filter": "datum.p==='c'"}], "mark": {"type": "rule", "color": "#9a9a9a", "strokeWidth": 2, "strokeDash": [2, 2]}, "encoding": {"x": {"field": "t", "type": "quantitative", "axis": null}}},
      {"data": {"name": "msd"}, "transform": [{"filter": "datum.p==='c'"}], "mark": {"type": "line", "strokeWidth": 2.5, "interpolate": "monotone"},
       "encoding": {"x": {"field": "t", "type": "quantitative", "scale": {"domain": [0, 500], "nice": false}, "axis": {"values": [100, 200, 300, 400], "labels": false, "title": null}},
                    "y": {"field": "v", "type": "quantitative", "scale": {"domain": [0, 70], "nice": false}, "axis": {"values": [20, 40, 60], "title": "in-plane MSD in  Å²", "titleFontSize": 22}},
                    "color": {"field": "T", "type": "nominal", "scale": {"domain": ["200 K","210 K","220 K","230 K","240 K","250 K","260 K","270 K"], "range": ["#800D84","#0D3B86","#1B68DB","#5DBCD8","#2D7A0B","#A4D10B","#FFB800","#F55E08"]}, "legend": null}}},
      {"data": {"name": "labs"}, "transform": [{"filter": "datum.p==='c'"}], "mark": {"type": "point", "shape": "M-0.62,-1L0.62,-1Q1,-1 1,-0.62L1,0.62Q1,1 0.62,1L-0.62,1Q-1,1 -1,0.62L-1,-0.62Q-1,-1 -0.62,-1Z", "size": 680, "filled": true, "fill": "white", "stroke": "black", "strokeWidth": 1.8, "opacity": 1},
       "encoding": {"x": {"field": "t", "type": "quantitative", "axis": {"orient": "top", "values": [100, 200, 300, 400], "labels": false, "title": null}}, "y": {"field": "v", "type": "quantitative", "axis": {"orient": "left", "values": [10, 30, 50], "labels": false, "title": null, "tickSize": -8}}}},
      {"data": {"name": "labs"}, "transform": [{"filter": "datum.p==='c'"}], "mark": {"type": "text", "fontSize": 20, "color": "black"},
       "encoding": {"x": {"field": "t", "type": "quantitative", "axis": null}, "y": {"field": "v", "type": "quantitative", "axis": null}, "text": {"field": "lab"}}}
     ]},
    {"width": 12, "height": 206, "view": {"stroke": null}, "data": {"name": "temps"},
     "mark": {"type": "text", "align": "right", "baseline": "middle", "fontSize": 21, "fontWeight": "bold"},
     "encoding": {"y": {"field": "T", "type": "nominal", "scale": {"type": "point", "padding": 0.376}, "axis": null},
                  "text": {"field": "T"},
                  "color": {"field": "T", "type": "nominal", "scale": {"domain": ["200 K","210 K","220 K","230 K","240 K","250 K","260 K","270 K"], "range": ["#800D84","#0D3B86","#1B68DB","#5DBCD8","#2D7A0B","#A4D10B","#FFB800","#F55E08"]}, "legend": null}}}
  ], "spacing": 78, "bounds": "flush"},
  {"hconcat": [
    {"width": 28, "height": 220, "view": {"stroke": null}, "data": {"name": "rows"}, "transform": [{"filter": "datum.r==='2nd layer'"}], "mark": {"type": "text", "angle": 270, "fontSize": 20.5, "fontWeight": "bold", "align": "center", "baseline": "middle", "color": "black", "dy": -5}, "encoding": {"text": {"field": "r"}}},
    {"width": 299, "height": 220,
     "resolve": {"axis": {"x": "independent", "y": "independent"}},
     "layer": [
      {"data": {"name": "msd"}, "transform": [{"filter": "datum.p==='d'"}], "mark": {"type": "line", "strokeWidth": 2.5, "interpolate": "monotone"},
       "encoding": {"x": {"field": "t", "type": "quantitative", "scale": {"domain": [0, 500], "nice": false}, "axis": {"values": [100, 200, 300, 400], "title": "t in ps"}},
                    "y": {"field": "v", "type": "quantitative", "scale": {"domain": [0, 11.9], "nice": false}, "axis": {"values": [2, 4, 6, 8, 10], "title": "in-plane MSD in  Å²", "titleFontSize": 22}},
                    "color": {"field": "T", "type": "nominal", "scale": {"domain": ["200 K","210 K","220 K","230 K","240 K","250 K","260 K","270 K"], "range": ["#800D84","#0D3B86","#1B68DB","#5DBCD8","#2D7A0B","#A4D10B","#FFB800","#F55E08"]}, "legend": null}}},
      {"data": {"name": "labs"}, "transform": [{"filter": "datum.p==='d'"}], "mark": {"type": "point", "shape": "M-0.62,-1L0.62,-1Q1,-1 1,-0.62L1,0.62Q1,1 0.62,1L-0.62,1Q-1,1 -1,0.62L-1,-0.62Q-1,-1 -0.62,-1Z", "size": 680, "filled": true, "fill": "white", "stroke": "black", "strokeWidth": 1.8, "opacity": 1},
       "encoding": {"x": {"field": "t", "type": "quantitative", "axis": {"orient": "top", "values": [100, 200, 300, 400], "labels": false, "title": null}}, "y": {"field": "v", "type": "quantitative", "axis": null}}},
      {"data": {"name": "labs"}, "transform": [{"filter": "datum.p==='d'"}], "mark": {"type": "text", "fontSize": 20, "color": "black"},
       "encoding": {"x": {"field": "t", "type": "quantitative", "axis": null}, "y": {"field": "v", "type": "quantitative", "axis": null}, "text": {"field": "lab"}}}
     ]},
    {"width": 299, "height": 220,
     "resolve": {"axis": {"x": "independent", "y": "independent"}},
     "layer": [
      {"data": {"name": "msd"}, "transform": [{"filter": "datum.p==='e'"}], "mark": {"type": "line", "strokeWidth": 4.5, "interpolate": "monotone"},
       "encoding": {"x": {"field": "t", "type": "quantitative", "scale": {"domain": [0, 500], "nice": false}, "axis": {"values": [100, 200, 300, 400], "title": "t in ps"}},
                    "y": {"field": "v", "type": "quantitative", "scale": {"domain": [0, 1.6], "nice": false}, "axis": {"values": [0.4, 0.8, 1.2], "title": "in-plane MSD in  Å²", "titleFontSize": 22}},
                    "color": {"field": "T", "type": "nominal", "scale": {"domain": ["200 K","210 K","220 K","230 K","240 K","250 K","260 K","270 K"], "range": ["#800D84","#0D3B86","#1B68DB","#5DBCD8","#2D7A0B","#A4D10B","#FFB800","#F55E08"]}, "legend": null}}},
      {"data": {"name": "labs"}, "transform": [{"filter": "datum.p==='e'"}], "mark": {"type": "point", "shape": "M-0.62,-1L0.62,-1Q1,-1 1,-0.62L1,0.62Q1,1 0.62,1L-0.62,1Q-1,1 -1,0.62L-1,-0.62Q-1,-1 -0.62,-1Z", "size": 680, "filled": true, "fill": "white", "stroke": "black", "strokeWidth": 1.8, "opacity": 1},
       "encoding": {"x": {"field": "t", "type": "quantitative", "axis": {"orient": "top", "values": [100, 200, 300, 400], "labels": false, "title": null}}, "y": {"field": "v", "type": "quantitative", "axis": {"orient": "left", "values": [0.2, 0.6, 1.0, 1.4], "labels": false, "title": null, "tickSize": -8}}}},
      {"data": {"name": "labs"}, "transform": [{"filter": "datum.p==='e'"}], "mark": {"type": "text", "fontSize": 20, "color": "black"},
       "encoding": {"x": {"field": "t", "type": "quantitative", "axis": null}, "y": {"field": "v", "type": "quantitative", "axis": null}, "text": {"field": "lab"}}}
     ]},
    {"width": 299, "height": 220,
     "resolve": {"axis": {"x": "independent", "y": "independent"}},
     "layer": [
      {"data": {"name": "msd"}, "transform": [{"filter": "datum.p==='f'"}], "mark": {"type": "line", "strokeWidth": 4.5, "interpolate": "monotone"},
       "encoding": {"x": {"field": "t", "type": "quantitative", "scale": {"domain": [0, 500], "nice": false}, "axis": {"values": [100, 200, 300, 400], "title": "t in ps"}},
                    "y": {"field": "v", "type": "quantitative", "scale": {"domain": [0.02, 1.79], "nice": false, "zero": false}, "axis": {"values": [0.4, 0.8, 1.2, 1.6], "title": "in-plane MSD in  Å²", "titleFontSize": 22}},
                    "color": {"field": "T", "type": "nominal", "scale": {"domain": ["200 K","210 K","220 K","230 K","240 K","250 K","260 K","270 K"], "range": ["#800D84","#0D3B86","#1B68DB","#5DBCD8","#2D7A0B","#A4D10B","#FFB800","#F55E08"]}, "legend": null}}},
      {"data": {"name": "labs"}, "transform": [{"filter": "datum.p==='f'"}], "mark": {"type": "point", "shape": "M-0.62,-1L0.62,-1Q1,-1 1,-0.62L1,0.62Q1,1 0.62,1L-0.62,1Q-1,1 -1,0.62L-1,-0.62Q-1,-1 -0.62,-1Z", "size": 680, "filled": true, "fill": "white", "stroke": "black", "strokeWidth": 1.8, "opacity": 1},
       "encoding": {"x": {"field": "t", "type": "quantitative", "axis": {"orient": "top", "values": [100, 200, 300, 400], "labels": false, "title": null}}, "y": {"field": "v", "type": "quantitative", "axis": {"orient": "left", "values": [0.6, 1.0, 1.4], "labels": false, "title": null, "tickSize": -8}}}},
      {"data": {"name": "labs"}, "transform": [{"filter": "datum.p==='f'"}], "mark": {"type": "text", "fontSize": 20, "color": "black"},
       "encoding": {"x": {"field": "t", "type": "quantitative", "axis": null}, "y": {"field": "v", "type": "quantitative", "axis": null}, "text": {"field": "lab"}}}
     ]}
  ], "spacing": 78, "bounds": "flush"}
 ]},
 {"spacing": 18, "resolve": {"legend": {"shape": "independent", "fill": "independent"}}, "vconcat": [
  {"width": 1291, "height": 2, "view": {"stroke": null}, "data": {"name": "sep"}, "mark": {"type": "rule", "color": "black", "strokeWidth": 1.5},
   "encoding": {"y": {"field": "y", "type": "quantitative", "scale": {"domain": [-1, 1]}, "axis": null}}},
  {"hconcat": [
    {"width": 28, "height": 220, "view": {"stroke": null}, "data": {"name": "rows"}, "transform": [{"filter": "datum.r==='Fitted Exponents'"}], "mark": {"type": "text", "angle": 270, "fontSize": 20.5, "fontWeight": "bold", "align": "center", "baseline": "middle", "color": "black", "dy": -5}, "encoding": {"text": {"field": "r"}}},
    {"width": 299, "height": 220,
     "resolve": {"axis": {"x": "independent", "y": "independent"}},
     "layer": [
      {"data": {"name": "href"}, "transform": [{"filter": "datum.p==='i'"}], "mark": {"type": "rule", "color": "#9a9a9a", "strokeWidth": 1.5, "strokeDash": [4, 4]},
       "encoding": {"x": {"field": "t", "type": "quantitative", "axis": null}, "x2": {"field": "t2"}, "y": {"field": "v", "type": "quantitative", "axis": null}}},
      {"data": {"name": "exp"}, "transform": [{"filter": "datum.p==='i' && datum.s==='1st layer'"}], "mark": {"type": "line", "color": "black", "strokeWidth": 2},
       "encoding": {"x": {"field": "K", "type": "quantitative", "scale": {"domain": [200, 270], "nice": false, "zero": false}, "axis": {"values": [200, 210, 220, 230, 240, 250, 260, 270], "title": "T in K", "labelPadding": 19}},
                    "y": {"field": "v", "type": "quantitative", "scale": {"domain": [0, 1], "nice": false}, "axis": {"values": [0.1, 0.2, 0.3, 0.4, 0.5, 0.6, 0.7, 0.8, 0.9], "format": "~g", "labelExpr": "indexof([0.2, 0.4, 0.6, 0.8], datum.value) >= 0 ? datum.label : ''", "title": "Exponent"}}}},
      {"data": {"name": "exp"}, "transform": [{"filter": "datum.p==='i' && datum.s==='2nd layer'"}], "mark": {"type": "line", "color": "#3F5A8A", "strokeWidth": 2},
       "encoding": {"x": {"field": "K", "type": "quantitative", "axis": null}, "y": {"field": "v", "type": "quantitative", "axis": null}}},
      {"data": {"name": "exp"}, "transform": [{"filter": "datum.p==='i' && datum.s==='1st layer'"}], "mark": {"type": "errorbar", "ticks": true, "color": "black"},
       "encoding": {"x": {"field": "K", "type": "quantitative", "axis": null}, "y": {"field": "lo", "type": "quantitative", "axis": null}, "y2": {"field": "hi"}}},
      {"data": {"name": "exp"}, "transform": [{"filter": "datum.p==='i'"}], "mark": {"type": "point", "filled": true, "opacity": 1, "strokeWidth": 0},
       "encoding": {"x": {"field": "K", "type": "quantitative", "axis": null}, "y": {"field": "v", "type": "quantitative", "axis": null},
                    "shape": {"field": "s", "type": "nominal", "scale": {"domain": ["1st layer", "2nd layer"], "range": ["square", "triangle-up"]}, "legend": null},
                    "fill": {"field": "s", "type": "nominal", "scale": {"domain": ["1st layer", "2nd layer"], "range": ["black", "#3F5A8A"]}, "legend": null},
                    "size": {"condition": {"test": "datum.s==='2nd layer'", "value": 180}, "value": 130}}},
      {"data": {"name": "labs"}, "transform": [{"filter": "datum.p==='i'"}], "mark": {"type": "point", "shape": "M-0.62,-1L0.62,-1Q1,-1 1,-0.62L1,0.62Q1,1 0.62,1L-0.62,1Q-1,1 -1,0.62L-1,-0.62Q-1,-1 -0.62,-1Z", "size": 680, "filled": true, "fill": "white", "stroke": "black", "strokeWidth": 1.8, "opacity": 1},
       "encoding": {"x": {"field": "t", "type": "quantitative", "axis": {"orient": "top", "values": [210, 220, 230, 240, 250, 260], "labels": false, "title": null}}, "y": {"field": "v", "type": "quantitative", "axis": {"orient": "right", "values": [0.1, 0.2, 0.3, 0.4, 0.5, 0.6, 0.7, 0.8, 0.9], "labels": false, "title": null}}}},
      {"data": {"name": "labs"}, "transform": [{"filter": "datum.p==='i'"}], "mark": {"type": "text", "fontSize": 20, "color": "black"},
       "encoding": {"x": {"field": "t", "type": "quantitative", "axis": null}, "y": {"field": "v", "type": "quantitative", "axis": null}, "text": {"field": "lab"}}}
     ]},
    {"width": 299, "height": 220,
     "resolve": {"axis": {"x": "independent", "y": "independent"}},
     "layer": [
      {"data": {"name": "href"}, "transform": [{"filter": "datum.p==='ii'"}], "mark": {"type": "rule", "color": "#9a9a9a", "strokeWidth": 1.5, "strokeDash": [4, 4]},
       "encoding": {"x": {"field": "t", "type": "quantitative", "axis": null}, "x2": {"field": "t2"}, "y": {"field": "v", "type": "quantitative", "axis": null}}},
      {"data": {"name": "exp"}, "transform": [{"filter": "datum.p==='ii' && datum.s==='1st layer'"}], "mark": {"type": "line", "color": "black", "strokeWidth": 2},
       "encoding": {"x": {"field": "K", "type": "quantitative", "scale": {"domain": [200, 270], "nice": false, "zero": false}, "axis": {"values": [200, 210, 220, 230, 240, 250, 260, 270], "title": "T in K", "labelPadding": 19}},
                    "y": {"field": "v", "type": "quantitative", "scale": {"domain": [0, 1], "nice": false}, "axis": {"values": [0.1, 0.2, 0.3, 0.4, 0.5, 0.6, 0.7, 0.8, 0.9], "format": "~g", "labelExpr": "indexof([0.2, 0.4, 0.6, 0.8], datum.value) >= 0 ? datum.label : ''", "title": "Exponent"}}}},
      {"data": {"name": "exp"}, "transform": [{"filter": "datum.p==='ii' && datum.s==='2nd layer'"}], "mark": {"type": "line", "color": "#3F5A8A", "strokeWidth": 2},
       "encoding": {"x": {"field": "K", "type": "quantitative", "axis": null}, "y": {"field": "v", "type": "quantitative", "axis": null}}},
      {"data": {"name": "exp"}, "transform": [{"filter": "datum.p==='ii' && datum.s==='1st layer'"}], "mark": {"type": "errorbar", "ticks": true, "color": "black"},
       "encoding": {"x": {"field": "K", "type": "quantitative", "axis": null}, "y": {"field": "lo", "type": "quantitative", "axis": null}, "y2": {"field": "hi"}}},
      {"data": {"name": "exp"}, "transform": [{"filter": "datum.p==='ii'"}], "mark": {"type": "point", "filled": true, "opacity": 1, "strokeWidth": 0},
       "encoding": {"x": {"field": "K", "type": "quantitative", "axis": null}, "y": {"field": "v", "type": "quantitative", "axis": null},
                    "shape": {"field": "s", "type": "nominal", "scale": {"domain": ["1st layer", "2nd layer"], "range": ["square", "triangle-up"]}, "legend": null},
                    "fill": {"field": "s", "type": "nominal", "scale": {"domain": ["1st layer", "2nd layer"], "range": ["black", "#3F5A8A"]}, "legend": null},
                    "size": {"condition": {"test": "datum.s==='2nd layer'", "value": 180}, "value": 130}}},
      {"data": {"name": "labs"}, "transform": [{"filter": "datum.p==='ii'"}], "mark": {"type": "point", "shape": "M-0.62,-1L0.62,-1Q1,-1 1,-0.62L1,0.62Q1,1 0.62,1L-0.62,1Q-1,1 -1,0.62L-1,-0.62Q-1,-1 -0.62,-1Z", "size": 680, "filled": true, "fill": "white", "stroke": "black", "strokeWidth": 1.8, "opacity": 1},
       "encoding": {"x": {"field": "t", "type": "quantitative", "axis": {"orient": "top", "values": [210, 220, 230, 240, 250, 260], "labels": false, "title": null}}, "y": {"field": "v", "type": "quantitative", "axis": {"orient": "right", "values": [0.1, 0.2, 0.3, 0.4, 0.5, 0.6, 0.7, 0.8, 0.9], "labels": false, "title": null}}}},
      {"data": {"name": "labs"}, "transform": [{"filter": "datum.p==='ii'"}], "mark": {"type": "text", "fontSize": 20, "color": "black"},
       "encoding": {"x": {"field": "t", "type": "quantitative", "axis": null}, "y": {"field": "v", "type": "quantitative", "axis": null}, "text": {"field": "lab"}}}
     ]},
    {"width": 299, "height": 220,
     "resolve": {"axis": {"x": "independent", "y": "independent"}},
     "layer": [
      {"data": {"name": "href"}, "transform": [{"filter": "datum.p==='iii'"}], "mark": {"type": "rule", "color": "#9a9a9a", "strokeWidth": 1.5, "strokeDash": [4, 4]},
       "encoding": {"x": {"field": "t", "type": "quantitative", "axis": null}, "x2": {"field": "t2"}, "y": {"field": "v", "type": "quantitative", "axis": null}}},
      {"data": {"name": "exp"}, "transform": [{"filter": "datum.p==='iii' && datum.s==='1st layer'"}], "mark": {"type": "line", "color": "black", "strokeWidth": 2},
       "encoding": {"x": {"field": "K", "type": "quantitative", "scale": {"domain": [200, 270], "nice": false, "zero": false}, "axis": {"values": [200, 210, 220, 230, 240, 250, 260, 270], "title": "T in K", "labelPadding": 19}},
                    "y": {"field": "v", "type": "quantitative", "scale": {"domain": [-0.1, 0.9], "nice": false, "zero": false}, "axis": {"values": [0, 0.1, 0.2, 0.3, 0.4, 0.5, 0.6, 0.7, 0.8], "format": "~g", "labelExpr": "indexof([0, 0.2, 0.4, 0.6, 0.8], datum.value) >= 0 ? datum.label : ''", "title": "Exponent"}}}},
      {"data": {"name": "exp"}, "transform": [{"filter": "datum.p==='iii' && datum.s==='2nd layer'"}], "mark": {"type": "line", "color": "#3F5A8A", "strokeWidth": 2},
       "encoding": {"x": {"field": "K", "type": "quantitative", "axis": null}, "y": {"field": "v", "type": "quantitative", "axis": null}}},
      {"data": {"name": "exp"}, "transform": [{"filter": "datum.p==='iii' && datum.s==='1st layer'"}], "mark": {"type": "errorbar", "ticks": true, "color": "black"},
       "encoding": {"x": {"field": "K", "type": "quantitative", "axis": null}, "y": {"field": "lo", "type": "quantitative", "axis": null}, "y2": {"field": "hi"}}},
      {"data": {"name": "exp"}, "transform": [{"filter": "datum.p==='iii'"}], "mark": {"type": "point", "filled": true, "opacity": 1, "strokeWidth": 0},
       "encoding": {"x": {"field": "K", "type": "quantitative", "axis": null}, "y": {"field": "v", "type": "quantitative", "axis": null},
                    "shape": {"field": "s", "type": "nominal", "scale": {"domain": ["1st layer", "2nd layer"], "range": ["square", "triangle-up"]},
                              "legend": {"title": null, "orient": "right", "offset": 18, "padding": 0, "symbolSize": 130, "symbolStrokeWidth": 0, "labelFontSize": 21.5, "labelOffset": 3, "rowPadding": 2, "encode": {"labels": {"update": {"fill": {"scale": "fill", "field": "value"}}}}}},
                    "fill": {"field": "s", "type": "nominal", "scale": {"domain": ["1st layer", "2nd layer"], "range": ["black", "#3F5A8A"]},
                              "legend": {"title": null, "orient": "right", "offset": 18, "padding": 0, "symbolSize": 130, "symbolStrokeWidth": 0, "labelFontSize": 21.5, "labelOffset": 3, "rowPadding": 2, "encode": {"labels": {"update": {"fill": {"scale": "fill", "field": "value"}}}}}},
                    "size": {"condition": {"test": "datum.s==='2nd layer'", "value": 180}, "value": 130}}},
      {"data": {"name": "labs"}, "transform": [{"filter": "datum.p==='iii'"}], "mark": {"type": "point", "shape": "M-0.62,-1L0.62,-1Q1,-1 1,-0.62L1,0.62Q1,1 0.62,1L-0.62,1Q-1,1 -1,0.62L-1,-0.62Q-1,-1 -0.62,-1Z", "size": 680, "filled": true, "fill": "white", "stroke": "black", "strokeWidth": 1.8, "opacity": 1},
       "encoding": {"x": {"field": "t", "type": "quantitative", "axis": {"orient": "top", "values": [210, 220, 230, 240, 250, 260], "labels": false, "title": null}}, "y": {"field": "v", "type": "quantitative", "axis": {"orient": "right", "values": [0, 0.1, 0.2, 0.3, 0.4, 0.5, 0.6, 0.7, 0.8], "labels": false, "title": null}}}},
      {"data": {"name": "labs"}, "transform": [{"filter": "datum.p==='iii'"}], "mark": {"type": "text", "fontSize": 20, "color": "black"},
       "encoding": {"x": {"field": "t", "type": "quantitative", "axis": null}, "y": {"field": "v", "type": "quantitative", "axis": null}, "text": {"field": "lab"}}}
     ]}
  ], "spacing": 78, "bounds": "flush", "resolve": {"legend": {"shape": "independent", "fill": "independent"}}}
 ]}
]
}
